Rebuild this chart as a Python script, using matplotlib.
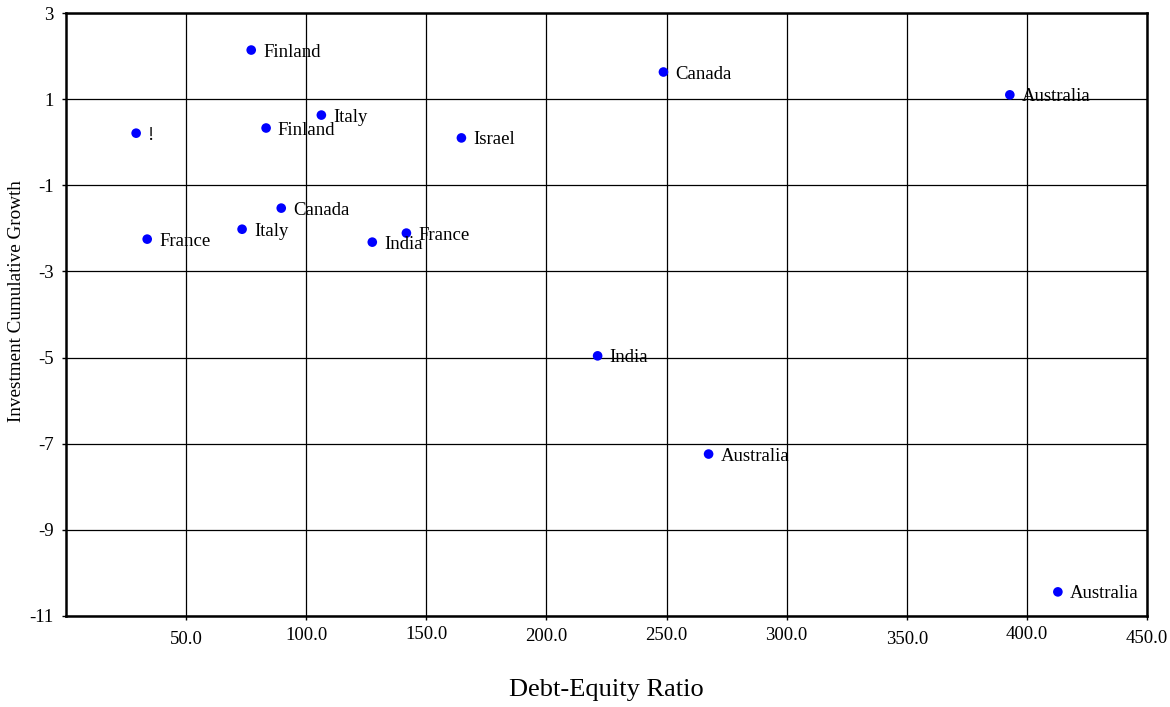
import matplotlib
matplotlib.use("Agg")
import matplotlib.pyplot as plt
import matplotlib.transforms as mtransforms

plt.rcParams['font.family'] = ['Liberation Serif', 'DejaVu Serif']

labels = ["Finland", "Canada", "Australia", "!", "Finland", "Italy", "Israel",
          "Canada", "Italy", "France", "India", "France", "India", "Australia", "Australia"]
debt_equity = [77.1, 248.7, 392.9, 29.2, 83.3, 106.3, 164.6,
               89.6, 73.3, 33.8, 127.5, 141.7, 221.3, 267.5, 412.9]
growth = [2.14, 1.63, 1.10, 0.21, 0.33, 0.63, 0.10,
          -1.53, -2.02, -2.25, -2.32, -2.11, -4.96, -7.24, -10.44]

x_ticks = [50, 100, 150, 200, 250, 300, 350, 400, 450]
x_tick_labels = ["50.0", "100.0", "150.0", "200.0", "250.0", "300.0", "350.0", "400.0", "450.0"]
y_ticks = [-11, -9, -7, -5, -3, -1, 1, 3]
y_tick_labels = ["-11", "-9", "-7", "-5", "-3", "-1", "1", "3"]

fig = plt.figure(figsize=(11.7, 7.07), dpi=100)
ax = fig.add_axes([66/1170, 1-616/707, (1147-66)/1170, (616-13)/707])

ax.set_xlim(0, 450)
ax.set_ylim(-11, 3)
ax.set_xticks(x_ticks)
ax.set_xticklabels(x_tick_labels, fontsize=13.5)
ax.set_yticks(y_ticks)
ax.set_yticklabels(y_tick_labels, fontsize=13.5)
ax.grid(True, color='black', linewidth=0.9)
ax.set_axisbelow(True)
for s in ax.spines.values():
    s.set_linewidth(1.8)
ax.tick_params(axis='both', direction='out', length=3, width=1)
ax.tick_params(axis='y', pad=6)
ax.tick_params(axis='x', pad=5)

# slight vertical jitter of x tick labels as in the reference
jitter = [-4, 0, 1, -1, 0, 0, -4, 1, -3]
for lab, dy in zip(ax.get_xticklabels(), jitter):
    lab.set_transform(lab.get_transform() + mtransforms.ScaledTranslation(0, dy/100, fig.dpi_scale_trans))

ax.scatter(debt_equity, growth, s=48, color='#0000ff', zorder=3, edgecolors='none')
for x, y, t in zip(debt_equity, growth, labels):
    ax.annotate(t, (x, y), xytext=(8.5, -1.5), textcoords='offset points',
                fontsize=13.5, va='center', ha='left', zorder=4)

ax.set_xlabel("Debt-Equity Ratio", fontsize=19)
ax.xaxis.set_label_coords(0.5, -(690-616)/603)
ax.xaxis.label.set_va('center')
ax.set_ylabel("Investment Cumulative Growth", fontsize=13.8)
ax.yaxis.set_label_coords((16.5-66)/1081, (616-301)/603)
ax.yaxis.label.set_va('center')

fig.savefig("out.png", dpi=100)
